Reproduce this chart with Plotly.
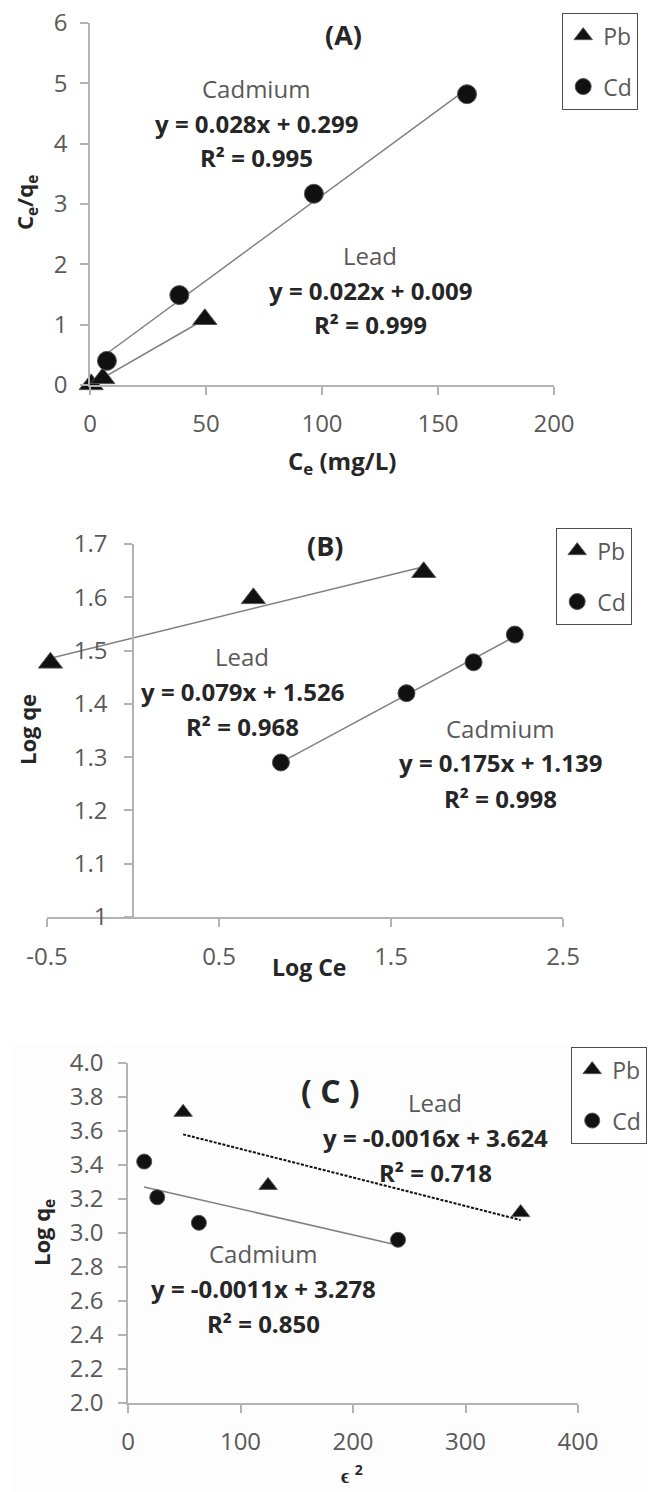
import numpy as np
import plotly.graph_objects as go

W, H = 648, 1492

# ---------------- data ----------------
# Panel A: Langmuir (Ce/qe vs Ce)
a_pb_x = [0.5, 5.5, 49.5]
a_pb_y = [0.01, 0.11, 1.09]
a_cd_x = [7.3, 38.5, 96.5, 162.5]
a_cd_y = [0.40, 1.49, 3.17, 4.82]
# Panel B: Freundlich (log qe vs log Ce)
b_pb_x = [-0.48, 0.70, 1.69]
b_pb_y = [1.477, 1.598, 1.647]
b_cd_x = [0.86, 1.59, 1.98, 2.22]
b_cd_y = [1.29, 1.42, 1.478, 1.53]
# Panel C: D-R (log qe vs eps^2)
c_pb_x = [49, 124.5, 349]
c_pb_y = [3.71, 3.28, 3.12]
c_cd_x = [14.4, 26, 63, 240]
c_cd_y = [3.42, 3.21, 3.06, 2.96]

series_names = ["Pb", "Cd"]
a_xticks = [0, 50, 100, 150, 200]
a_yticks = [0, 1, 2, 3, 4, 5, 6]
b_xticks = [-0.5, 0.5, 1.5, 2.5]
b_xlabels = ["-0.5", "0.5", "1.5", "2.5"]
b_yticks = [1.0, 1.1, 1.2, 1.3, 1.4, 1.5, 1.6, 1.7]
b_ylabels = ["1", "1.1", "1.2", "1.3", "1.4", "1.5", "1.6", "1.7"]
c_xticks = [0, 100, 200, 300, 400]
c_yticks = [2.0, 2.2, 2.4, 2.6, 2.8, 3.0, 3.2, 3.4, 3.6, 3.8, 4.0]
eq_labels = {
    "A_cd": ["Cadmium", "y = 0.028x + 0.299", "R² = 0.995"],
    "A_pb": ["Lead", "y = 0.022x + 0.009", "R² = 0.999"],
    "B_pb": ["Lead", "y = 0.079x + 1.526", "R² = 0.968"],
    "B_cd": ["Cadmium", "y = 0.175x + 1.139", "R² = 0.998"],
    "C_pb": ["Lead", "y = -0.0016x + 3.624", "R² = 0.718"],
    "C_cd": ["Cadmium", "y = -0.0011x + 3.278", "R² = 0.850"],
}

FONT = "Open Sans"
TICK_COL = "#595959"
AX_COL = "#b3b3b3"
TXT = "#262626"


def px(x):
    return x / W


def py(y):
    return 1 - y / H


def trend(xs, ys):
    k, b = np.polyfit(xs, ys, 1)
    x0, x1 = min(xs), max(xs)
    return [x0, x1], [k * x0 + b, k * x1 + b]


fig = go.Figure()

panels = [
    ("x", "y", "legend", a_pb_x, a_pb_y, a_cd_x, a_cd_y, 21, 19, "#808080", "solid", 1.5),
    ("x2", "y2", "legend2", b_pb_x, b_pb_y, b_cd_x, b_cd_y, 21, 17, "#808080", "solid", 1.5),
    ("x3", "y3", "legend3", c_pb_x, c_pb_y, c_cd_x, c_cd_y, 16, 15, "#111111", "3px,1.5px", 2),
]

for xa, ya, lg, pbx, pby, cdx, cdy, tsz, csz, pbl, pbd, pbw in panels:
    tx, ty = trend(pbx, pby)
    fig.add_trace(go.Scatter(x=tx, y=ty, mode="lines", xaxis=xa, yaxis=ya,
                             line=dict(color=pbl, width=pbw, dash=pbd), showlegend=False, hoverinfo="skip"))
    tx, ty = trend(cdx, cdy)
    fig.add_trace(go.Scatter(x=tx, y=ty, mode="lines", xaxis=xa, yaxis=ya,
                             line=dict(color="#808080", width=1.5), showlegend=False, hoverinfo="skip"))
    fig.add_trace(go.Scatter(x=pbx, y=pby, mode="markers", name=series_names[0], xaxis=xa, yaxis=ya,
                             legend=lg, legendgroup=lg + "pb", cliponaxis=False,
                             marker=dict(symbol="triangle-up", size=tsz, color="#111111",
                                         line=dict(color="#555555", width=1))))
    fig.add_trace(go.Scatter(x=cdx, y=cdy, mode="markers", name=series_names[1], xaxis=xa, yaxis=ya,
                             legend=lg, legendgroup=lg + "cd", cliponaxis=False,
                             marker=dict(symbol="circle", size=csz, color="#111111",
                                         line=dict(color="#555555", width=1))))

axis_common = dict(showgrid=False, zeroline=False, showline=True, linecolor=AX_COL, linewidth=1.5,
                   ticks="outside", ticklen=8, tickcolor=AX_COL, tickwidth=1.5, automargin=False,
                   tickfont=dict(family=FONT, size=24, color=TICK_COL), fixedrange=True)

fig.update_layout(
    template="none",
    width=W, height=H, margin=dict(l=0, r=0, t=0, b=0, pad=0, autoexpand=False),
    paper_bgcolor="white", plot_bgcolor="rgba(0,0,0,0)",
    font=dict(family=FONT, color=TXT),
    # Panel A
    xaxis=dict(domain=[px(90), px(554)], range=[0, 200], tickvals=a_xticks, ticklabelstandoff=8,
               anchor="y", **axis_common),
    yaxis=dict(domain=[py(385), py(23)], range=[0, 6], tickvals=a_yticks, ticklabelstandoff=8,
               anchor="x", **axis_common),
    # Panel B
    xaxis2=dict(domain=[px(47), px(563)], range=[-0.5, 2.5], tickvals=b_xticks, ticktext=b_xlabels,
                ticklabelstandoff=9, anchor="y2", **axis_common),
    yaxis2=dict(domain=[py(917), py(544)], range=[1.0, 1.7],
                tickvals=b_yticks, ticktext=b_ylabels, ticklabelstandoff=12,
                anchor="free", position=px(47 + 516 * 0.5 / 3), **axis_common),
    # Panel C
    xaxis3=dict(domain=[px(128), px(578)], range=[0, 400], tickvals=c_xticks, ticklabelstandoff=8,
                anchor="y3", **axis_common),
    yaxis3=dict(domain=[py(1403), py(1063)], range=[2.0, 4.0], ticklabelstandoff=10,
                tickvals=c_yticks, tickformat=".1f", anchor="x3", **axis_common),
    shapes=[dict(type="rect", xref="paper", yref="paper", x0=px(13), x1=1, y0=0, y1=py(1045),
                 fillcolor="#fdfdfd", line=dict(width=0), layer="below")],
)

leg_common = dict(bgcolor="white", bordercolor="#4d4d4d", borderwidth=1.2,
                  font=dict(family=FONT, size=23, color=TICK_COL),
                  xanchor="left", yanchor="top", tracegroupgap=18, itemwidth=30)
fig.update_layout(
    legend=dict(x=px(562), y=py(13), **leg_common),
    legend2=dict(x=px(556), y=py(528), **leg_common),
    legend3=dict(x=px(571), y=py(1047), **leg_common),
)

ann = []


def text(x, y, s, size=20, bold=False, color=TXT, angle=0):
    ann.append(dict(x=px(x), y=py(y), xref="paper", yref="paper", text=(f"<b>{s}</b>" if bold else s),
                    showarrow=False, xanchor="center", yanchor="middle", textangle=angle,
                    font=dict(family=FONT, size=size, color=color)))


def eq_block(cx, y0, lines, sz=24):
    text(cx, y0, lines[0], sz, False, "#595959")
    text(cx, y0 + 35, lines[1], sz, True, TXT)
    text(cx, y0 + 70, lines[2], sz, True, TXT)


# Panel A
text(343, 35, "(A)", 27, True)
eq_block(256, 88, eq_labels["A_cd"])
eq_block(370, 255, eq_labels["A_pb"])
text(342, 462, "C<sub>e</sub> (mg/L)", 24, True)
text(26, 203, "C<sub>e</sub>/q<sub>e</sub>", 22, True, angle=-90)
# Panel B
text(325, 545, "(B)", 27, True)
eq_block(242, 656, eq_labels["B_pb"])
eq_block(500, 728, eq_labels["B_cd"])
text(309, 967, "Log Ce", 23, True)
text(27, 730, "Log qe", 22, True, angle=-90)
# Panel C
text(330, 1090, "( C )", 32, True)
eq_block(435, 1102, eq_labels["C_pb"])
eq_block(263, 1253, eq_labels["C_cd"])
text(352, 1474, "ϵ <sup>2</sup>", 20, True)
text(43, 1233, "Log q<sub>e</sub>", 22, True, angle=-90)

fig.update_layout(annotations=ann)

fig.write_html("out.html")
